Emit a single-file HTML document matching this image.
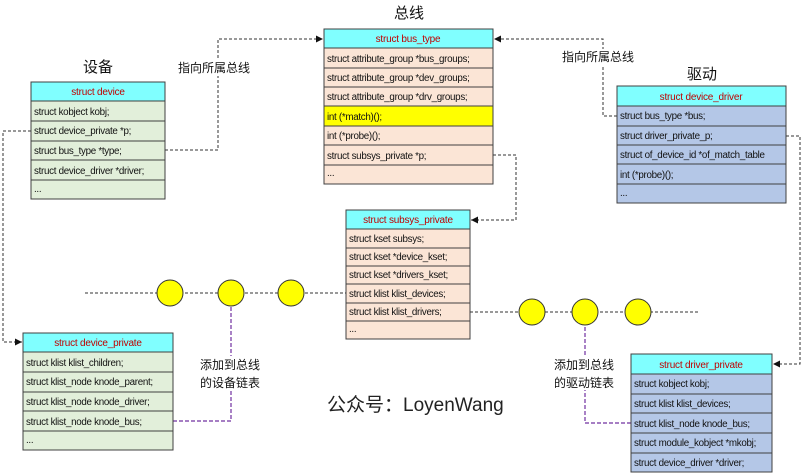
<!DOCTYPE html>
<html><head><meta charset="utf-8"><style>
html,body{margin:0;padding:0;background:#fff}
svg{display:block}
text{font-family:"Liberation Sans","Noto Sans CJK SC",sans-serif}
.t{font-size:9.8px;fill:#111;letter-spacing:-0.3px}
.h{font-size:10px;fill:#c00000;text-anchor:middle;letter-spacing:-0.2px}
.cn{font-size:12px;fill:#111;font-family:"Noto Sans CJK SC","WenQuanYi Zen Hei",sans-serif}
.big{font-size:15px;fill:#111;font-family:"Noto Sans CJK SC","WenQuanYi Zen Hei",sans-serif;text-anchor:middle}
.d{stroke:#333;stroke-width:1;stroke-dasharray:3,2;fill:none}
.p{stroke:#7030a0;stroke-width:1.2;stroke-dasharray:4,2;fill:none}
.r{stroke:#404040;stroke-width:1}
</style></head><body>
<svg width="802" height="474" viewBox="0 0 802 474" xmlns="http://www.w3.org/2000/svg">
<defs><marker id="a" markerWidth="8" markerHeight="8" refX="7" refY="4" orient="auto" markerUnits="userSpaceOnUse"><path d="M0,0.5 L7,4 L0,7.5z" fill="#111"/></marker></defs>

<path class="d" d="M165,150 H218 V39 H323" marker-end="url(#a)"/>
<path class="d" d="M31,131 H3 V342 H22" marker-end="url(#a)"/>
<path class="d" d="M617,116 H603 V39 H494" marker-end="url(#a)"/>
<path class="d" d="M493,155 H516 V220 H471" marker-end="url(#a)"/>
<path class="d" d="M786,136 H800 V364 H773" marker-end="url(#a)"/>
<path class="d" d="M85,293 H346"/>
<path class="d" d="M470,312 H700"/>
<path class="p" d="M173,421 H231 V306"/>
<path class="p" d="M631,423 H585 V325"/>

<g fill="#ffff00" stroke="#333" stroke-width="1">
<circle cx="170" cy="293" r="13"/><circle cx="231" cy="293" r="13"/><circle cx="291" cy="293" r="13"/>
<circle cx="532" cy="312" r="13"/><circle cx="585" cy="312" r="13"/><circle cx="638" cy="312" r="13"/>
</g>

<g>
<rect x="31" y="82" width="134" height="19" fill="#80ffff" class="r"/>
<text class="h" x="98" y="95">struct device</text>
<rect x="31" y="101" width="134" height="98" fill="#e2efda" class="r"/>
<line class="r" x1="31" y1="121" x2="165" y2="121"/><line class="r" x1="31" y1="141" x2="165" y2="141"/><line class="r" x1="31" y1="160" x2="165" y2="160"/><line class="r" x1="31" y1="180" x2="165" y2="180"/>
<text class="t" x="34" y="115">struct kobject kobj;</text>
<text class="t" x="34" y="134">struct device_private *p;</text>
<text class="t" x="34" y="154">struct bus_type *type;</text>
<text class="t" x="34" y="174">struct device_driver *driver;</text>
<text class="t" x="34" y="192">...</text>
</g>

<g>
<rect x="324" y="29" width="169" height="19" fill="#80ffff" class="r"/>
<text class="h" x="408" y="42">struct bus_type</text>
<rect x="324" y="48" width="169" height="136" fill="#fbe5d6" class="r"/>
<rect x="324" y="106" width="169" height="20" fill="#ffff00" class="r"/>
<line class="r" x1="324" y1="68" x2="493" y2="68"/><line class="r" x1="324" y1="87" x2="493" y2="87"/><line class="r" x1="324" y1="145" x2="493" y2="145"/><line class="r" x1="324" y1="165" x2="493" y2="165"/>
<text class="t" x="327" y="62">struct attribute_group *bus_groups;</text>
<text class="t" x="327" y="81">struct attribute_group *dev_groups;</text>
<text class="t" x="327" y="100">struct attribute_group *drv_groups;</text>
<text class="t" x="327" y="120">int (*match)();</text>
<text class="t" x="327" y="139">int (*probe)();</text>
<text class="t" x="327" y="159">struct subsys_private *p;</text>
<text class="t" x="327" y="176">...</text>
</g>

<g>
<rect x="346" y="210" width="124" height="19" fill="#80ffff" class="r"/>
<text class="h" x="408" y="223">struct subsys_private</text>
<rect x="346" y="229" width="124" height="110" fill="#fbe5d6" class="r"/>
<line class="r" x1="346" y1="248" x2="470" y2="248"/><line class="r" x1="346" y1="266" x2="470" y2="266"/><line class="r" x1="346" y1="284" x2="470" y2="284"/><line class="r" x1="346" y1="303" x2="470" y2="303"/><line class="r" x1="346" y1="321" x2="470" y2="321"/>
<text class="t" x="349" y="242">struct kset subsys;</text>
<text class="t" x="349" y="260">struct kset *device_kset;</text>
<text class="t" x="349" y="278">struct kset *drivers_kset;</text>
<text class="t" x="349" y="297">struct klist klist_devices;</text>
<text class="t" x="349" y="315">struct klist klist_drivers;</text>
<text class="t" x="349" y="332">...</text>
</g>

<g>
<rect x="23" y="333" width="150" height="19" fill="#80ffff" class="r"/>
<text class="h" x="98" y="346">struct device_private</text>
<rect x="23" y="352" width="150" height="98" fill="#e2efda" class="r"/>
<line class="r" x1="23" y1="372" x2="173" y2="372"/><line class="r" x1="23" y1="392" x2="173" y2="392"/><line class="r" x1="23" y1="411" x2="173" y2="411"/><line class="r" x1="23" y1="431" x2="173" y2="431"/>
<text class="t" x="26" y="366">struct klist klist_children;</text>
<text class="t" x="26" y="385">struct klist_node knode_parent;</text>
<text class="t" x="26" y="405">struct klist_node knode_driver;</text>
<text class="t" x="26" y="425">struct klist_node knode_bus;</text>
<text class="t" x="26" y="443">...</text>
</g>

<g>
<rect x="617" y="86" width="169" height="20" fill="#80ffff" class="r"/>
<text class="h" x="701" y="100">struct device_driver</text>
<rect x="617" y="106" width="169" height="97" fill="#b4c7e7" class="r"/>
<line class="r" x1="617" y1="126" x2="786" y2="126"/><line class="r" x1="617" y1="145" x2="786" y2="145"/><line class="r" x1="617" y1="164" x2="786" y2="164"/><line class="r" x1="617" y1="184" x2="786" y2="184"/>
<text class="t" x="620" y="119">struct bus_type *bus;</text>
<text class="t" x="620" y="139">struct driver_private_p;</text>
<text class="t" x="620" y="158">struct of_device_id *of_match_table</text>
<text class="t" x="620" y="178">int (*probe)();</text>
<text class="t" x="620" y="196">...</text>
</g>

<g>
<rect x="631" y="354" width="141" height="20" fill="#80ffff" class="r"/>
<text class="h" x="701" y="368">struct driver_private</text>
<rect x="631" y="374" width="141" height="98" fill="#b4c7e7" class="r"/>
<line class="r" x1="631" y1="394" x2="772" y2="394"/><line class="r" x1="631" y1="413" x2="772" y2="413"/><line class="r" x1="631" y1="433" x2="772" y2="433"/><line class="r" x1="631" y1="453" x2="772" y2="453"/>
<text class="t" x="634" y="387">struct kobject kobj;</text>
<text class="t" x="634" y="407">struct klist klist_devices;</text>
<text class="t" x="634" y="427">struct klist_node knode_bus;</text>
<text class="t" x="634" y="446">struct module_kobject *mkobj;</text>
<text class="t" x="634" y="466">struct device_driver *driver;</text>
</g>

<rect x="176" y="60" width="82" height="16" fill="#fff"/>
<text class="cn" x="178" y="72">指向所属总线</text>
<rect x="560" y="49" width="82" height="16" fill="#fff"/>
<text class="cn" x="562" y="61">指向所属总线</text>
<text class="big" x="98" y="72">设备</text>
<text class="big" x="409" y="18">总线</text>
<text class="big" x="702" y="79">驱动</text>
<rect x="199" y="356" width="68" height="34" fill="#fff"/>
<text class="cn" x="200" y="369">添加到总线</text>
<text class="cn" x="200" y="387">的设备链表</text>
<rect x="553" y="356" width="68" height="34" fill="#fff"/>
<text class="cn" x="554" y="369">添加到总线</text>
<text class="cn" x="554" y="387">的驱动链表</text>
<text x="327" y="411" style="font-size:19px;fill:#222;font-family:'Liberation Sans','Noto Sans CJK SC',sans-serif">公众号：LoyenWang</text>
</svg>
</body></html>
